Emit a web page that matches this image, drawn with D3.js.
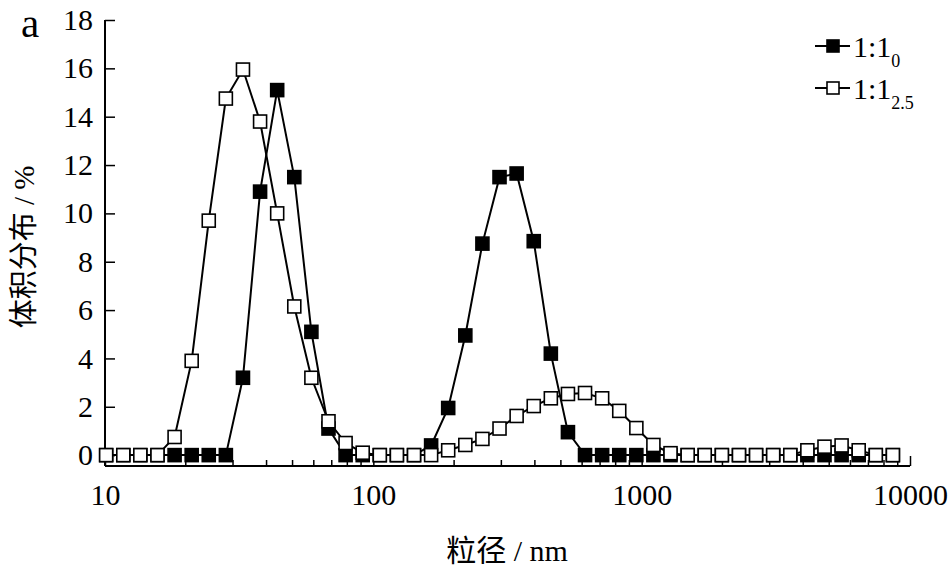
<!DOCTYPE html>
<html><head><meta charset="utf-8">
<script src="https://cdn.jsdelivr.net/npm/d3@7"></script>
<style>
html,body{margin:0;padding:0;background:#fff;}
</style></head>
<body><svg id="c" width="948" height="579"></svg>
<script>
// particle size bins (nm)
const sizes = [10.1,11.7,13.54,15.69,18.17,21.04,24.36,28.21,32.67,37.84,43.82,50.75,58.77,68.06,78.82,91.28,
  105.7,122.4,141.8,164.2,190.1,220.2,255,295.3,342,396.1,458.7,531.2,615.1,712.4,825,955.4,
  1106,1281,1484,1718,1990,2305,2669,3091,3580,4145,4801,5560,6439,7456,8635];
// 1:1_0 (filled squares)
const series0 = [0,0,0,0,0,0,0,0,3.2,10.9,15.1,11.5,5.1,1.1,0,0,
  0,0,0,0.4,1.95,4.95,8.75,11.5,11.65,8.85,4.2,0.95,0,0,0,0,
  0,0,0,0,0,0,0,0,0,0,0,0,0,0,0];
// 1:1_2.5 (open squares)
const series25 = [0,0,0,0,0.75,3.9,9.7,14.75,15.95,13.8,10.0,6.15,3.2,1.4,0.5,0.1,
  0,0,0,0,0.2,0.42,0.67,1.1,1.62,2.03,2.35,2.53,2.57,2.35,1.83,1.12,
  0.42,0.08,0,0,0,0,0,0,0,0.2,0.35,0.4,0.2,0,0];
const yTicks = [0,2,4,6,8,10,12,14,16,18];
const xTicks = [10,100,1000,10000];
const xLabel = "粒径 / nm";
const yLabel = "体积分布 / %";

const svg = d3.select("#c");
const x = d3.scaleLog().domain([10,10000]).range([105,910]);
const y = d3.scaleLinear().domain([-0.45,18]).range([466,20]);

const serif = "Liberation Serif";
const cjk = "Noto Sans CJK SC";

// axes
const gx = svg.append("g").attr("transform","translate(0,466)")
  .call(d3.axisBottom(x).tickValues(xTicks).tickFormat(d3.format("d")).tickSize(-10).tickPadding(18));
const minor = x.ticks().filter(t=>xTicks.indexOf(t)<0);
gx.selectAll(".minor").data(minor).enter().append("line").attr("class","minor")
  .attr("x1",d=>x(d)).attr("x2",d=>x(d)).attr("y1",0).attr("y2",-6).attr("stroke","#000").attr("stroke-width",1.5);
const gy = svg.append("g").attr("transform","translate(105,0)")
  .call(d3.axisLeft(y).tickValues(yTicks).tickSize(-10).tickPadding(12));
[gx,gy].forEach(g=>{
  g.attr("font-family",serif).attr("font-size",30);
  g.select(".domain").attr("stroke-width",2);
  g.selectAll(".tick line").attr("stroke-width",1.5);
  g.selectAll(".tick text").attr("font-family",serif).attr("font-size",30);
});
gx.select(".domain").attr("d","M105,0H910");
gy.select(".domain").attr("d","M0,"+y(18)+"V466");

const line = d3.line().x((d,i)=>x(sizes[i])).y(d=>y(d));
function drawSeries(vals, fill){
  svg.append("path").datum(vals).attr("d",line).attr("fill","none").attr("stroke","#000").attr("stroke-width",2);
  svg.append("g").selectAll("rect").data(vals).enter().append("rect")
    .attr("x",(d,i)=>x(sizes[i])-6.5).attr("y",d=>y(d)-6.5).attr("width",13).attr("height",13)
    .attr("fill",fill).attr("stroke","#000").attr("stroke-width",1.6);
}
drawSeries(series0,"#000");
drawSeries(series25,"#fff");

// legend
const leg = [{fill:"#000",main:"1:1",sub:"0",y:46},{fill:"#fff",main:"1:1",sub:"2.5",y:88}];
leg.forEach(l=>{
  svg.append("line").attr("x1",815).attr("x2",850).attr("y1",l.y).attr("y2",l.y).attr("stroke","#000").attr("stroke-width",2);
  svg.append("rect").attr("x",827).attr("y",l.y-6).attr("width",12).attr("height",12).attr("fill",l.fill).attr("stroke","#000").attr("stroke-width",1.6);
  const t = svg.append("text").attr("x",853).attr("y",l.y+11).attr("font-family",serif).attr("font-size",30);
  t.append("tspan").text(l.main);
  t.append("tspan").attr("dy",10).attr("font-size",18).text(l.sub);
});

// labels
svg.append("text").attr("x",21).attr("y",37).attr("font-family",serif).attr("font-size",41).text("a");
function mixed(sel, str){
  // CJK chars in CJK font, the rest in serif
  const parts = str.match(/[\u4e00-\u9fff]+|[^\u4e00-\u9fff]+/g);
  parts.forEach(p=>{
    sel.append("tspan").attr("font-family", /[\u4e00-\u9fff]/.test(p) ? cjk : serif).text(p);
  });
}
const xt = svg.append("text").attr("x",507).attr("y",561).attr("text-anchor","middle").attr("font-size",30);
mixed(xt, xLabel);
const yt = svg.append("text").attr("transform","translate(34,247) rotate(-90)").attr("text-anchor","middle").attr("font-size",29);
mixed(yt, yLabel);
</script></body></html>
